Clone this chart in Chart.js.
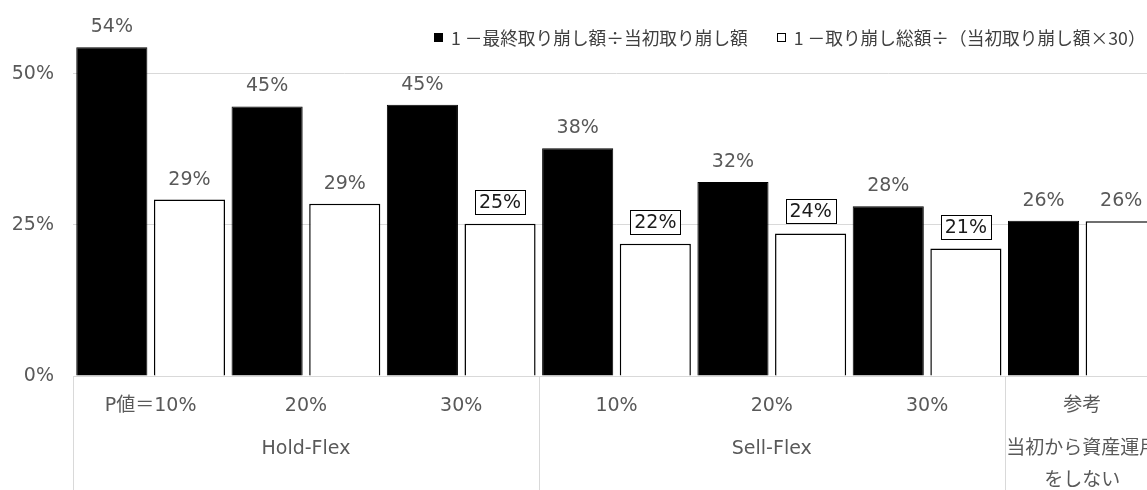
<!DOCTYPE html>
<html>
<head>
<meta charset="utf-8">
<script src="https://cdn.jsdelivr.net/npm/chart.js@4"></script>
<style>
  html, body { margin: 0; padding: 0; background: #fff; overflow: hidden; }
  #wrap { position: relative; width: 1160px; height: 500px; }
  #legend {
    position: absolute; left: 434px; top: 24px; height: 26px; line-height: 26px;
    font-family: 'Noto Sans CJK JP', sans-serif; font-size: 17.7px; color: #404040;
    display: flex; align-items: center; white-space: nowrap;
  }
  .key { display: inline-block; width: 9px; height: 9px; margin-right: 8px; box-sizing: border-box; }
  .key.black { background: #000; }
  .key.white { background: #fff; border: 1.5px solid #000; }
</style>
</head>
<body>
<div id="wrap">
  <canvas id="chart" width="1160" height="500"></canvas>
  <div id="legend"></div>
</div>
<script>
// data
const categories = ['P値＝10%', '20%', '30%', '10%', '20%', '30%', '参考'];
const groupLabels = [['Hold-Flex'], ['Sell-Flex'], ['当初から資産運用', 'をしない']];
const groupSizes = [3, 3, 1];
const seriesNames = ['1 －最終取り崩し額÷当初取り崩し額', '1 －取り崩し総額÷（当初取り崩し額×30）'];
const finalRatio = [54.4, 44.6, 44.9, 37.7, 32.1, 28.1, 25.7];
const totalRatio = [29.2, 28.5, 25.2, 21.9, 23.6, 21.1, 25.6];
const boxedTotal = [false, false, true, true, true, true, false];
const yTicks = [0, 25, 50];

const FONT = "'DejaVu Sans', 'Noto Sans CJK JP', sans-serif";
const GREY = '#595959';
const LINE = '#d9d9d9';

// legend as plain html
const legend = document.getElementById('legend');
legend.innerHTML =
  `<span class="key black"></span><span>${seriesNames[0]}</span>` +
  `<span style="display:inline-block;width:29px"></span>` +
  `<span class="key white"></span><span>${seriesNames[1]}</span>`;

// value labels above bars, some of them boxed
const valueLabels = {
  id: 'valueLabels',
  afterDatasetsDraw(chart) {
    const ctx = chart.ctx;
    ctx.save();
    ctx.font = '19px ' + FONT;
    ctx.textAlign = 'center';
    ctx.textBaseline = 'middle';
    chart.data.datasets.forEach((ds, di) => {
      chart.getDatasetMeta(di).data.forEach((bar, i) => {
        const txt = Math.round(ds.data[i]) + '%';
        const boxed = di === 1 && boxedTotal[i];
        if (boxed) {
          const w = Math.round(ctx.measureText(txt).width + 8);
          const h = 24;
          const bottom = Math.round(bar.y - 10);
          const left = Math.round(bar.x - w / 2);
          ctx.fillStyle = '#fff';
          ctx.fillRect(left, bottom - h, w, h);
          ctx.strokeStyle = '#000';
          ctx.lineWidth = 1;
          ctx.strokeRect(left + 0.5, bottom - h + 0.5, w, h);
          ctx.fillStyle = '#1a1a1a';
          ctx.fillText(txt, bar.x, bottom - h / 2 + 1);
        } else {
          ctx.fillStyle = GREY;
          ctx.fillText(txt, bar.x, bar.y - 20);
        }
      });
    });
    ctx.restore();
  }
};

// second level of the category axis: group names and separators
const groupAxis = {
  id: 'groupAxis',
  afterDraw(chart) {
    const ctx = chart.ctx;
    const x = chart.scales.x;
    const area = chart.chartArea;
    const edge = i => {
      if (i <= 0) return area.left;
      if (i >= categories.length) return area.right;
      return (x.getPixelForValue(i - 1) + x.getPixelForValue(i)) / 2;
    };
    ctx.save();
    ctx.strokeStyle = LINE;
    ctx.lineWidth = 1;
    ctx.font = '19px ' + FONT;
    ctx.fillStyle = GREY;
    ctx.textAlign = 'center';
    ctx.textBaseline = 'middle';
    let start = 0;
    groupSizes.forEach((n, g) => {
      const left = edge(start), right = edge(start + n);
      ctx.beginPath();
      ctx.moveTo(Math.round(left) + 0.5, area.bottom);
      ctx.lineTo(Math.round(left) + 0.5, chart.height);
      ctx.stroke();
      groupLabels[g].forEach((line, li) => {
        ctx.fillText(line, (left + right) / 2, area.bottom + 73 + li * 32);
      });
      start += n;
    });
    ctx.restore();
  }
};

new Chart(document.getElementById('chart'), {
  type: 'bar',
  data: {
    labels: categories,
    datasets: [
      {
        label: seriesNames[0],
        data: finalRatio,
        backgroundColor: '#000',
        borderColor: '#000',
        borderWidth: 1
      },
      {
        label: seriesNames[1],
        data: totalRatio,
        backgroundColor: '#fff',
        borderColor: '#000',
        borderWidth: 1.5
      }
    ]
  },
  options: {
    responsive: false,
    animation: false,
    devicePixelRatio: 1,
    layout: { padding: { top: 11, left: 0, right: 0, bottom: 0 } },
    datasets: { bar: { categoryPercentage: 1, barPercentage: 0.916 } },
    plugins: { legend: { display: false }, tooltip: { enabled: false } },
    scales: {
      x: {
        grid: { display: false, drawTicks: false },
        border: { display: true, color: LINE, width: 1 },
        ticks: { color: GREY, font: { family: FONT, size: 19 }, padding: 19, maxRotation: 0 },
        afterFit(scale) { scale.height = 124; }
      },
      y: {
        min: 0,
        max: 57.2,
        grid: { color: LINE, drawTicks: false },
        border: { display: false },
        ticks: {
          color: GREY,
          font: { family: FONT, size: 19 },
          padding: 19,
          callback: v => v + '%'
        },
        afterBuildTicks(scale) {
          scale.ticks = yTicks.map(v => ({ value: v }));
        },
        afterFit(scale) { scale.width = 73; }
      }
    }
  },
  plugins: [valueLabels, groupAxis]
});
</script>
</body>
</html>
